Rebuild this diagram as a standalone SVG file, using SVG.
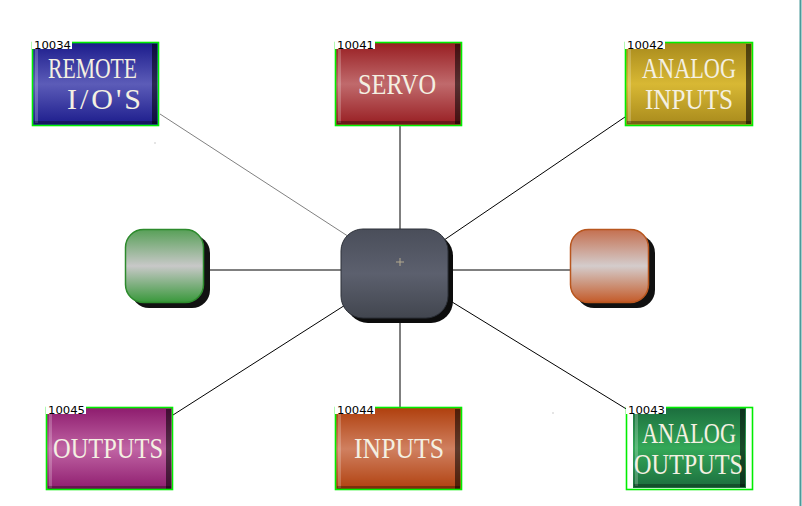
<svg xmlns="http://www.w3.org/2000/svg" width="802" height="506" viewBox="0 0 802 506">
<style>
.lbl{font-family:"Liberation Serif","Times New Roman",serif;font-size:30px;fill:#f4f0e2}
.id{font-family:"DejaVu Sans",Verdana,sans-serif;font-size:10px;fill:#000}
.sel{fill:none;stroke:#00ee00;stroke-width:1.6}
.conn{stroke:#000;stroke-width:1;fill:none}
.hl{fill:#fff;opacity:0.22}
.rs{fill:#000;opacity:0.55}
.bs{fill:#000;opacity:0.3}
</style>
<defs>
<linearGradient id="gBlue" x1="0" y1="0" x2="0" y2="1"><stop offset="0" stop-color="#1c1c8c"/><stop offset="0.5" stop-color="#5c5cb8"/><stop offset="1" stop-color="#1c1c8c"/></linearGradient>
<linearGradient id="gRed" x1="0" y1="0" x2="0" y2="1"><stop offset="0" stop-color="#981e22"/><stop offset="0.5" stop-color="#c06a6c"/><stop offset="1" stop-color="#981e22"/></linearGradient>
<linearGradient id="gGold" x1="0" y1="0" x2="0" y2="1"><stop offset="0" stop-color="#a88a1c"/><stop offset="0.5" stop-color="#d8b834"/><stop offset="1" stop-color="#a88a1c"/></linearGradient>
<linearGradient id="gMag" x1="0" y1="0" x2="0" y2="1"><stop offset="0" stop-color="#8e1c6e"/><stop offset="0.5" stop-color="#c064a4"/><stop offset="1" stop-color="#8e1c6e"/></linearGradient>
<linearGradient id="gOra" x1="0" y1="0" x2="0" y2="1"><stop offset="0" stop-color="#b0400e"/><stop offset="0.5" stop-color="#d08060"/><stop offset="1" stop-color="#b0400e"/></linearGradient>
<linearGradient id="gGrn" x1="0" y1="0" x2="0" y2="1"><stop offset="0" stop-color="#1c6e3e"/><stop offset="0.5" stop-color="#34a858"/><stop offset="1" stop-color="#1c6e3e"/></linearGradient>
<linearGradient id="rGrn" x1="0" y1="0" x2="0" y2="1"><stop offset="0" stop-color="#58a058"/><stop offset="0.5" stop-color="#c8c8c8"/><stop offset="1" stop-color="#38983a"/></linearGradient>
<linearGradient id="rOra" x1="0" y1="0" x2="0" y2="1"><stop offset="0" stop-color="#c47050"/><stop offset="0.5" stop-color="#d4cccc"/><stop offset="1" stop-color="#c45a28"/></linearGradient>
<linearGradient id="rSlate" x1="0" y1="0" x2="0" y2="1"><stop offset="0" stop-color="#4a4e5a"/><stop offset="0.5" stop-color="#5c606e"/><stop offset="1" stop-color="#42464f"/></linearGradient>
</defs>

<rect x="0" y="0" width="802" height="506" fill="#ffffff"/>
<rect x="799.5" y="0" width="2" height="506" fill="#4a9a9a"/>
<rect x="154.5" y="142.5" width="1" height="1" fill="#999"/>
<rect x="552.5" y="412.5" width="1" height="1" fill="#999"/>

<g id="connectors">
<line x1="160" y1="114" x2="400" y2="270" stroke="#808080" stroke-width="1"/>
<line class="conn" x1="400" y1="126" x2="400" y2="270"/>
<line class="conn" x1="625" y1="117" x2="400" y2="270"/>
<line class="conn" x1="203" y1="270" x2="400" y2="270"/>
<line class="conn" x1="570" y1="270" x2="400" y2="270"/>
<line class="conn" x1="173" y1="415" x2="400" y2="270"/>
<line class="conn" x1="400" y1="407" x2="400" y2="270"/>
<line class="conn" x1="628" y1="410" x2="400" y2="270"/>
</g>

<g id="n10034">
<rect x="33" y="43" width="125" height="82" fill="url(#gBlue)"/>
<rect class="hl" x="35" y="45" width="3" height="78"/>
<rect class="rs" x="152" y="44" width="5" height="80"/>
<rect class="bs" x="34" y="121" width="123" height="3"/>
<rect class="sel" x="32.5" y="42.5" width="126" height="83"/>
<rect x="32" y="40" width="40" height="9" fill="#fff"/>
<text class="id" x="34" y="48.5" textLength="37" lengthAdjust="spacingAndGlyphs">10034</text>
<text class="lbl" x="48" y="78" textLength="89" lengthAdjust="spacingAndGlyphs">REMOTE</text>
<text class="lbl" x="67" y="109" textLength="74" lengthAdjust="spacing">I/O'S</text>
</g>

<g id="n10041">
<rect x="336" y="43" width="125" height="82" fill="url(#gRed)"/>
<rect class="hl" x="338" y="45" width="3" height="78"/>
<rect class="rs" x="455" y="44" width="5" height="80"/>
<rect class="bs" x="337" y="121" width="123" height="3"/>
<rect class="sel" x="335.5" y="42.5" width="126" height="83"/>
<rect x="335" y="40" width="40" height="9" fill="#fff"/>
<text class="id" x="337" y="48.5" textLength="37" lengthAdjust="spacingAndGlyphs">10041</text>
<text class="lbl" x="358" y="94" textLength="78" lengthAdjust="spacingAndGlyphs">SERVO</text>
</g>

<g id="n10042">
<rect x="626" y="43" width="126" height="82" fill="url(#gGold)"/>
<rect class="hl" x="628" y="45" width="3" height="78"/>
<rect class="rs" x="746" y="44" width="5" height="80"/>
<rect class="bs" x="627" y="121" width="124" height="3"/>
<rect class="sel" x="625.5" y="42.5" width="127" height="83"/>
<rect x="625" y="40" width="40" height="9" fill="#fff"/>
<text class="id" x="627" y="48.5" textLength="37" lengthAdjust="spacingAndGlyphs">10042</text>
<text class="lbl" x="642" y="78" textLength="94" lengthAdjust="spacingAndGlyphs">ANALOG</text>
<text class="lbl" x="645" y="109" textLength="88" lengthAdjust="spacingAndGlyphs">INPUTS</text>
</g>

<g id="nGreen">
<rect x="131" y="235" width="79" height="73" rx="18" fill="#111"/>
<rect x="125.5" y="229.5" width="78" height="73" rx="18" fill="url(#rGrn)" stroke="#2c8a2c" stroke-width="1.5"/>
</g>

<g id="nCenter">
<rect x="346" y="234" width="107" height="89" rx="22" fill="#0c0c0c"/>
<rect x="341" y="229" width="107" height="89" rx="22" fill="url(#rSlate)" stroke="#2c3038" stroke-width="1"/>
<path d="M396 262H404M400 258V266" stroke="#b4aa90" stroke-width="1"/>
</g>

<g id="nOrange">
<rect x="576" y="235" width="79" height="73" rx="18" fill="#111"/>
<rect x="570.5" y="229.5" width="78" height="73" rx="18" fill="url(#rOra)" stroke="#b8561e" stroke-width="1.5"/>
</g>

<g id="n10045">
<rect x="47" y="408" width="125" height="82" fill="url(#gMag)"/>
<rect class="hl" x="49" y="410" width="3" height="78"/>
<rect class="rs" x="166" y="409" width="5" height="80"/>
<rect class="bs" x="48" y="486" width="123" height="3"/>
<rect class="sel" x="46.5" y="407.5" width="126" height="82"/>
<rect x="46" y="405" width="40" height="9" fill="#fff"/>
<text class="id" x="48" y="413.5" textLength="37" lengthAdjust="spacingAndGlyphs">10045</text>
<text class="lbl" x="53" y="458" textLength="110" lengthAdjust="spacingAndGlyphs">OUTPUTS</text>
</g>

<g id="n10044">
<rect x="336" y="408" width="125" height="82" fill="url(#gOra)"/>
<rect class="hl" x="338" y="410" width="3" height="78"/>
<rect class="rs" x="455" y="409" width="5" height="80"/>
<rect class="bs" x="337" y="486" width="123" height="3"/>
<rect class="sel" x="335.5" y="407.5" width="126" height="82"/>
<rect x="335" y="405" width="40" height="9" fill="#fff"/>
<text class="id" x="337" y="413.5" textLength="37" lengthAdjust="spacingAndGlyphs">10044</text>
<text class="lbl" x="354" y="458" textLength="90" lengthAdjust="spacingAndGlyphs">INPUTS</text>
</g>

<g id="n10043">
<rect x="633" y="408" width="113" height="80" fill="url(#gGrn)"/>
<rect class="hl" x="635" y="410" width="3" height="76"/>
<rect class="rs" x="740" y="409" width="5" height="78"/>
<rect class="bs" x="634" y="484" width="111" height="3"/>
<rect class="sel" x="626.5" y="407.5" width="126" height="82"/>
<rect x="626" y="405" width="40" height="9" fill="#fff"/>
<text class="id" x="628" y="413.5" textLength="37" lengthAdjust="spacingAndGlyphs">10043</text>
<text class="lbl" x="642" y="443" textLength="94" lengthAdjust="spacingAndGlyphs">ANALOG</text>
<text class="lbl" x="634" y="474" textLength="109" lengthAdjust="spacingAndGlyphs">OUTPUTS</text>
</g>
</svg>
